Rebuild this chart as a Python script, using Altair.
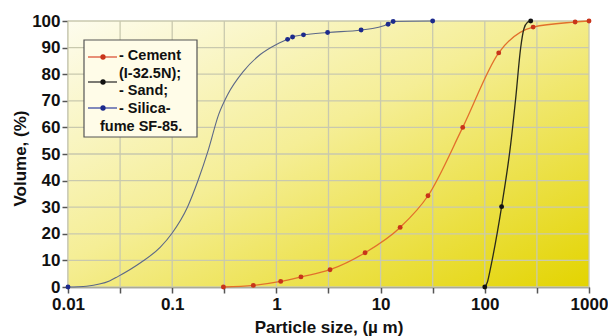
import altair as alt
import pandas as pd

# ---- data ----
cement_size = [0.31, 0.6, 1.1, 1.72, 3.27, 7.1, 15.4, 28.5, 61.4, 136, 291, 736, 1000]
cement_vol = [0, 0.6, 2.1, 3.8, 6.5, 12.9, 22.4, 34.3, 60, 88, 97.7, 99.6, 100]

sand_size = [100, 145, 276]
sand_vol = [0, 30.2, 100]
sand_curve_size = [100, 106, 114, 145, 177, 198, 221, 237, 257, 276]
sand_curve_vol = [0, 1.9, 7.5, 30.2, 53.5, 71, 90, 97, 99.5, 100]

silica_size = [0.01, 1.28, 1.43, 1.82, 3.1, 6.5, 11.8, 13.2, 31.6]
silica_vol = [0, 93.1, 94.0, 94.8, 95.7, 96.6, 98.8, 99.8, 100]
silica_curve_size = [0.01, 0.0125, 0.015, 0.02, 0.025, 0.03, 0.05, 0.077, 0.1, 0.14, 0.178, 0.22,
                     0.28, 0.34, 0.48, 0.7, 1.0, 1.28, 1.43, 1.82, 3.1, 6.5, 11.8, 13.2, 31.6]
silica_curve_vol = [0, 0.1, 0.3, 1.1, 2.3, 3.9, 9.2, 15, 20.3, 30, 40.3, 51,
                    65, 72.3, 81, 87.4, 91.2, 93.1, 94.0, 94.8, 95.7, 96.6, 98.8, 99.8, 100]

x_ticks = [0.01, 0.03162, 0.1, 0.3162, 1, 3.162, 10, 31.62, 100, 316.2, 1000]
y_ticks = [0, 10, 20, 30, 40, 50, 60, 70, 80, 90, 100]

legend_labels = ["- Cement", "(I-32.5N);", "- Sand;", "- Silica-", "fume SF-85."]

W, H = 521, 266
FONT = "Liberation Sans"

xenc = alt.X("size:Q",
             scale=alt.Scale(type="log", domain=[0.01, 1000], nice=False),
             axis=alt.Axis(values=x_ticks, format="~g",
                           labelExpr="abs(log(datum.value)/LN10 - round(log(datum.value)/LN10)) < 0.01 ? datum.label : ''",
                           title="Particle size, (\u00b5 m)", titleY=45, titleBaseline="alphabetic",
                           labelPadding=3, labelFlush=False))
yenc = alt.Y("vol:Q",
             scale=alt.Scale(domain=[0, 100], nice=False),
             axis=alt.Axis(values=y_ticks, title="Volume, (%)", labelPadding=2,
                           titleX=-48, titleBaseline="middle", titleY=H / 2 + 4))

dummy = pd.DataFrame({"a": [0]})

gradient = alt.LinearGradient(
    gradient="linear",
    stops=[alt.GradientStop(offset=0, color="#fdfcee"),
           alt.GradientStop(offset=0.45, color="#f5ee96"),
           alt.GradientStop(offset=1, color="#e3d400")],
    x1=0, y1=0, x2=1, y2=1)

bg = alt.Chart(dummy).mark_rect(color=gradient).encode(
    x=alt.value(0), x2=alt.value(W), y=alt.value(0), y2=alt.value(H))

grid_color = "#c9c9ae"
vgrid = alt.Chart(pd.DataFrame({"size": x_ticks})).mark_rule(color=grid_color, strokeWidth=1.3).encode(x=xenc)
hgrid = alt.Chart(pd.DataFrame({"vol": y_ticks})).mark_rule(color=grid_color, strokeWidth=1.3).encode(y=yenc)


def line_layer(sizes, vols, color, width=1.2):
    df = pd.DataFrame({"size": sizes, "vol": vols})
    return alt.Chart(df).mark_line(color=color, strokeWidth=width, interpolate="monotone").encode(
        x=xenc, y=yenc)


def point_layer(sizes, vols, color):
    df = pd.DataFrame({"size": sizes, "vol": vols})
    return alt.Chart(df).mark_point(filled=True, color=color, size=24, opacity=1).encode(
        x=xenc, y=yenc)


layers = [bg, vgrid, hgrid,
          line_layer(silica_curve_size, silica_curve_vol, "#5c6888", 1.1),
          line_layer(cement_size, cement_vol, "#e2702c", 1.3),
          line_layer(sand_curve_size, sand_curve_vol, "#2a2a1a", 1.3),
          point_layer(silica_size, silica_vol, "#1c2a8c"),
          point_layer(cement_size, cement_vol, "#c8341a"),
          point_layer(sand_size, sand_vol, "#111111")]

# ---- legend (decoration) ----
layers.append(alt.Chart(dummy).mark_rect(fill="#fffce8", stroke="#555555", strokeWidth=1.2).encode(
    x=alt.value(16), x2=alt.value(129), y=alt.value(19), y2=alt.value(116)))
sym_colors = [("#d8452a", "#c8341a"), ("#222222", "#111111"), ("#2c3c9c", "#1c2a8c")]
sym_y = [36, 61, 87]
for (lc, pc), sy in zip(sym_colors, sym_y):
    layers.append(alt.Chart(dummy).mark_rule(color=lc, strokeWidth=1.2).encode(
        x=alt.value(20), x2=alt.value(49), y=alt.value(sy)))
    layers.append(alt.Chart(dummy).mark_point(filled=True, color=pc, size=28, opacity=1).encode(
        x=alt.value(35), y=alt.value(sy)))
text_x = [51, 51, 51, 51, 32]
text_y = [38.5, 56.5, 74, 91.5, 110]
for t, tx, ty in zip(legend_labels, text_x, text_y):
    layers.append(alt.Chart(dummy).mark_text(
        text=t, align="left", baseline="alphabetic", font=FONT, fontWeight="bold",
        fontSize=14.5, color="#111111").encode(x=alt.value(tx), y=alt.value(ty)))

chart = alt.layer(*layers).properties(
    width=W, height=H,
    autosize=alt.AutoSizeParams(type="none"),
    padding={"left": 68, "top": 21, "right": 19, "bottom": 49},
    background="white",
).configure_view(stroke=None).configure_axis(
    grid=False, domainColor="#555555", domainWidth=1.5, tickColor="#555555",
    tickWidth=1.5, tickSize=6, labelFont=FONT, labelFontWeight="bold", labelFontSize=17,
    labelColor="#111111", titleFont=FONT, titleFontWeight="bold", titleFontSize=17,
    titleColor="#111111")

chart.save("out.html", embed_options={"renderer": "svg", "actions": False})
